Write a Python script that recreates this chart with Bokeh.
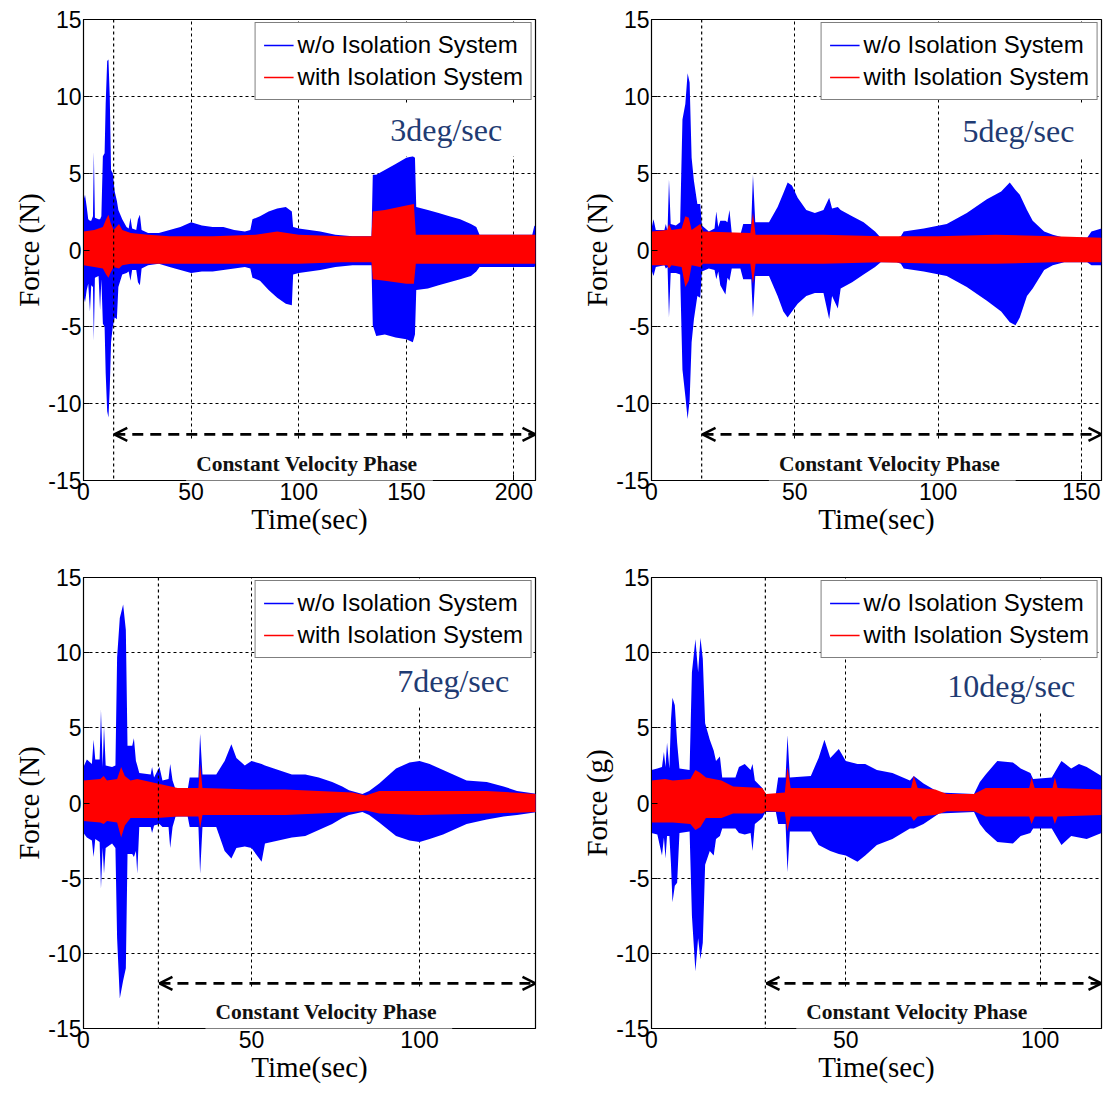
from bokeh.plotting import figure
from bokeh.layouts import column, row
from bokeh.models import (Label, Span, Arrow, OpenHead, Legend, LegendItem,
                          FixedTicker, Range1d)
from bokeh.embed import file_html
from bokeh.resources import INLINE

# ---------------- data (envelopes) ----------------
# Panel 1 : 3 deg/sec
p1_blue_t  = [0, 0.7, 1.5, 2.2, 3.0, 3.6, 4.4, 4.8, 5.3, 7.0, 7.7, 8.3, 9.0, 9.8, 10.3, 11.0, 11.6, 12.2, 12.8,
              13.6, 14.5, 15.5, 16.2, 18.0, 20.0, 21.0, 21.8, 22.6, 24.5, 25.3, 26.2, 27.0, 30, 35, 40, 45, 50,
              55, 60, 65, 70, 75, 77.5, 78.5, 82, 86, 90, 94, 96.8, 97.4, 100, 105, 110, 117, 125, 133.8, 134.4,
              136, 140, 145, 150, 153, 154, 154.6, 160, 165, 170, 175, 180, 182.5, 184, 190, 200, 208.5, 209.5, 210]
p1_blue_hi = [3.2, 3.6, 2.8, 2.0, 1.9, 1.9, 2.2, 6.4, 2.1, 2.0, 2.0, 2.2, 6.1, 6.3, 9.5, 12.3, 12.4, 10.0, 5.2,
              5.0, 3.8, 3.2, 2.6, 2.0, 1.5, 1.4, 2.1, 1.4, 1.3, 2.0, 2.3, 1.3, 1.1, 1.1, 1.3, 1.5, 1.8,
              1.6, 1.5, 1.5, 1.3, 1.2, 1.3, 2.0, 2.2, 2.5, 2.7, 2.8, 2.5, 1.5, 1.4, 1.3, 1.2, 1.0, 0.9, 0.9, 4.9,
              4.9, 5.2, 5.6, 6.0, 6.1, 6.0, 2.8, 2.6, 2.4, 2.2, 2.0, 1.7, 1.5, 1.0, 1.0, 1.0, 1.0, 1.6, 1.5]
p1_blue_lo = [-3.0, -3.4, -2.6, -2.2, -4.0, -2.3, -2.4, -5.9, -1.8, -1.7, -3.9, -1.9, -4.8, -5.0, -8.0, -10.5,
              -10.9, -9.0, -6.0, -5.0, -4.4, -4.5, -2.4, -1.6, -1.5, -1.4, -2.0, -1.3, -1.3, -2.1, -2.3, -1.2,
              -1.0, -0.9, -1.1, -1.3, -1.5, -1.4, -1.4, -1.3, -1.2, -1.1, -1.2, -1.8, -2.0, -2.6, -3.1, -3.5,
              -3.6, -1.6, -1.5, -1.4, -1.3, -1.1, -1.0, -1.0, -4.9, -5.6, -5.5, -5.7, -5.8, -6.0, -5.5, -2.6,
              -2.5, -2.3, -2.1, -1.9, -1.7, -1.4, -1.1, -1.1, -1.1, -1.1, -1.1, -1.0]
p1_red_t  = [0, 5, 9, 10.5, 11.6, 12.5, 14, 16.5, 18, 22, 30, 40, 60, 80, 90, 100, 120, 133.8, 134.4, 140, 150,
             153.5, 154.4, 170, 190, 210]
p1_red_hi = [1.2, 1.3, 1.5, 2.0, 2.3, 1.8, 1.3, 1.7, 1.3, 1.1, 1.0, 0.9, 0.9, 1.0, 1.2, 1.0, 0.9, 0.9, 2.5, 2.6,
             2.9, 3.0, 1.0, 1.0, 1.0, 1.0]
p1_red_lo = [-1.0, -1.1, -1.2, -1.6, -1.8, -1.5, -1.1, -1.2, -1.0, -0.9, -0.9, -0.9, -0.9, -0.9, -0.9, -0.9,
             -0.8, -0.8, -1.9, -2.0, -2.2, -2.2, -0.9, -0.9, -0.9, -0.9]

# Panel 2 : 5 deg/sec
p2_blue_t  = [0, 0.7, 1.5, 4.5, 5.0, 5.6, 6.1, 6.7, 8.5, 10.0, 10.8, 11.8, 12.6, 13.3, 14.0, 14.8, 16.0, 17.0,
              17.6, 20.0, 22.0, 22.6, 23.3, 24.0, 25.8, 26.5, 27.2, 28.0, 31.0, 32.0, 34.8, 35.4, 36.2, 41, 44,
              46, 47.5, 49, 51, 54, 57, 60, 62, 63, 65, 66, 70, 74, 78, 80, 85.5, 87, 88, 95, 103, 110, 117,
              122, 125, 127, 128.5, 131, 133, 137, 140, 144, 152, 153.5, 157]
p2_blue_hi = [1.4, 2.0, 1.3, 1.3, 1.7, 1.2, 4.6, 1.7, 1.6, 1.8, 8.5, 9.5, 11.5, 10.9, 6.0, 4.5, 3.0, 3.0,
              1.6, 1.2, 1.4, 2.5, 1.5, 1.9, 1.9, 1.8, 2.6, 1.1, 1.0, 1.7, 1.7, 4.9, 1.8, 1.8, 2.8,
              3.7, 4.4, 4.2, 3.4, 2.6, 2.4, 2.6, 3.4, 2.7, 2.8, 2.6, 2.2, 1.8, 1.2, 0.8, 0.8, 0.9, 1.2, 1.4, 1.7,
              2.4, 3.3, 3.8, 4.4, 3.9, 3.6, 2.6, 1.9, 1.2, 1.0, 0.8, 0.8, 1.2, 1.4]
p2_blue_lo = [-1.3, -1.7, -1.1, -1.0, -1.2, -1.1, -4.4, -1.5, -1.5, -1.6, -7.8, -9.5, -11.0, -9.8, -6.0, -4.5,
              -3.0, -3.1, -1.4, -1.2, -1.3, -1.9, -1.4, -2.3, -2.9, -1.8, -2.0, -1.2, -1.2, -1.9, -1.9, -4.4,
              -1.7, -1.7, -3.0, -4.0, -4.4, -4.0, -3.5, -3.0, -2.8, -2.8, -4.5, -3.0, -3.8, -2.5, -2.1, -1.6,
              -1.1, -0.8, -0.8, -0.9, -1.2, -1.4, -1.7, -2.4, -3.3, -4.0, -4.7, -4.9, -4.4, -3.0, -2.5, -1.3,
              -1.0, -0.8, -0.8, -1.0, -1.0]
p2_red_t  = [0, 5.5, 6.1, 7, 10.5, 11.8, 13, 14, 17, 18, 34.5, 35.4, 36.3, 60, 80, 100, 120, 140, 157]
p2_red_hi = [1.2, 1.3, 1.7, 1.3, 1.4, 2.2, 2.1, 1.3, 1.7, 1.2, 1.1, 2.4, 1.0, 1.0, 0.9, 0.9, 1.0, 0.9, 0.8]
p2_red_lo = [-1.0, -1.0, -1.2, -1.0, -1.1, -2.4, -2.0, -1.0, -1.1, -0.9, -0.9, -2.2, -0.9, -0.9, -0.8, -0.9,
             -0.9, -0.8, -0.8]

# Panel 3 : 7 deg/sec
p3_blue_t  = [0, 1, 2.5, 3.0, 3.5, 4.8, 5.2, 5.7, 6.1, 6.6, 8.5, 9.5, 10.0, 10.8, 11.8, 12.6, 13.1, 14.5, 15.0,
              15.6, 16.0, 16.6, 20.0, 20.4, 21.0, 22.6, 23.5, 25.3, 25.8, 26.5, 27.4, 31, 31.6, 34.2, 34.7,
              35.4, 39.5, 42, 44, 45.5, 48, 50, 53, 54, 58, 62, 66, 70, 74, 77, 79, 83, 85, 88, 93, 97, 100,
              103, 107, 110, 114, 120, 125, 129, 135]
p3_blue_hi = [2.4, 2.9, 2.6, 4.2, 2.9, 2.9, 6.2, 2.4, 5.1, 2.5, 2.4, 2.5, 9.7, 12.3, 13.2, 11.5, 3.8, 3.8, 4.3,
              2.8, 2.5, 2.0, 1.9, 2.4, 1.7, 2.4, 1.5, 1.6, 2.6, 1.5, 0.9, 0.9, 1.7, 1.7, 4.6, 1.9, 1.9, 2.8,
              3.9, 3.0, 2.5, 2.8, 2.6, 2.5, 2.2, 1.9, 1.9, 1.7, 1.4, 1.1, 0.85, 0.6, 0.8, 1.3, 2.3, 2.7, 2.8,
              2.6, 2.2, 1.9, 1.5, 1.4, 1.1, 0.8, 0.6]
p3_blue_lo = [-2.0, -2.3, -2.5, -3.6, -2.4, -2.6, -5.7, -3.0, -4.7, -3.0, -2.7, -3.0, -9.0, -13.0, -11.8,
              -11.0, -3.4, -3.4, -3.6, -3.2, -4.7, -1.6, -1.6, -2.0, -1.5, -1.4, -1.6, -1.6, -3.0, -1.6, -0.9,
              -0.9, -1.6, -1.6, -4.7, -1.6, -1.6, -3.2, -3.7, -3.0, -2.9, -3.0, -3.9, -2.7, -2.5, -2.3, -2.2,
              -1.8, -1.4, -1.0, -0.8, -0.6, -0.8, -1.3, -2.2, -2.5, -2.6, -2.4, -2.1, -1.8, -1.4, -1.1, -0.9,
              -0.8, -0.6]
p3_red_t  = [0, 5, 6, 7, 10, 11.2, 12.3, 14, 16, 22, 28, 34.2, 34.7, 35.4, 50, 60, 80, 84, 88, 100, 120, 135]
p3_red_hi = [1.5, 1.6, 1.8, 1.5, 1.6, 2.4, 1.8, 1.5, 1.6, 1.3, 1.0, 1.0, 2.6, 1.0, 0.9, 0.9, 0.7, 0.5, 0.8,
             0.8, 0.8, 0.6]
p3_red_lo = [-1.2, -1.3, -1.4, -1.2, -1.3, -2.3, -1.5, -1.0, -1.0, -1.0, -0.9, -0.9, -1.7, -0.8, -0.8, -0.8,
             -0.6, -0.5, -0.7, -0.8, -0.7, -0.6]

# Panel 4 : 10 deg/sec
p4_blue_t  = [0, 1.5, 2.7, 3.2, 3.6, 4.0, 4.6, 5.0, 5.4, 6.0, 6.6, 7.2, 9.8, 10.4, 11.3, 12.0, 12.6, 13.2, 13.8,
              15.0, 16.0, 16.6, 17.6, 18.2, 21.6, 22.5, 24, 25.5, 26.0, 26.6, 28.5, 29.3, 32, 32.6, 34.5, 35.0,
              35.6, 41, 43, 44.5, 46, 48.2, 50, 53, 55, 58, 62, 66.5, 67.5, 70, 74, 83, 84.5, 86, 89, 93, 95,
              97.5, 98.2, 103, 105.5, 108, 110, 112, 115.8]
p4_blue_hi = [2.2, 2.3, 2.4, 3.4, 2.4, 4.0, 2.3, 5.5, 7.0, 6.5, 4.0, 2.3, 2.2, 8.7, 10.9, 8.7, 11.0, 9.6, 5.3,
              4.2, 3.5, 2.8, 3.1, 1.7, 1.7, 2.4, 2.6, 2.2, 2.6, 1.5, 1.0, 0.6, 0.6, 1.7, 1.7, 4.5, 1.7, 1.8,
              3.0, 4.2, 3.0, 3.6, 2.8, 2.6, 2.6, 2.2, 2.0, 1.5, 1.8, 1.3, 0.7, 0.6, 1.4, 1.9, 2.8, 2.7, 2.3,
              2.0, 1.6, 1.7, 2.8, 2.3, 2.6, 2.4, 1.8]
p4_blue_lo = [-2.0, -2.1, -3.5, -2.3, -3.7, -2.2, -2.2, -4.0, -6.6, -5.5, -5.3, -2.0, -1.9, -7.5, -11.2, -9.0,
              -10.4, -9.3, -4.1, -3.2, -3.5, -2.4, -2.2, -1.7, -1.7, -2.0, -2.1, -2.0, -3.2, -1.4, -1.0, -0.6,
              -0.6, -1.4, -1.4, -4.6, -1.9, -1.9, -2.8, -3.0, -3.2, -3.4, -3.5, -3.9, -3.5, -2.8, -2.4, -1.7,
              -1.7, -1.4, -0.7, -0.6, -1.4, -1.9, -2.6, -2.7, -2.2, -2.0, -1.7, -1.7, -2.8, -2.2, -2.3, -2.4,
              -2.0]
p4_red_t  = [0, 3.5, 5.5, 10, 11.3, 12.6, 14, 18, 21, 28.5, 29.5, 34.3, 35.0, 35.8, 66.8, 67.5, 68.5, 73, 76,
             83, 86, 97.2, 97.8, 98.6, 103.2, 103.8, 104.5, 115.8]
p4_red_hi = [1.5, 1.6, 1.5, 1.6, 2.2, 2.0, 1.7, 1.5, 1.1, 1.0, 0.6, 0.7, 2.4, 1.0, 1.0, 1.8, 1.0, 0.9, 0.6,
             0.6, 1.0, 1.0, 1.7, 1.0, 1.0, 1.7, 1.0, 0.9]
p4_red_lo = [-1.3, -1.3, -1.3, -1.4, -1.8, -1.6, -1.0, -1.0, -0.7, -0.7, -0.55, -0.6, -1.9, -0.9, -0.9, -1.2,
             -0.9, -0.8, -0.55, -0.55, -0.9, -0.9, -1.4, -0.9, -0.9, -1.4, -0.9, -0.8]

series_names = ["w/o Isolation System", "with Isolation System"]
rate_labels = ["3deg/sec", "5deg/sec", "7deg/sec", "10deg/sec"]
y_labels = ["Force (N)", "Force (N)", "Force (N)", "Force (g)"]
x_max = [210, 157, 134.5, 115.8]
x_ticks = [[0, 50, 100, 150, 200], [0, 50, 100, 150], [0, 50, 100], [0, 50, 100]]
y_ticks = [-15, -10, -5, 0, 5, 10, 15]
y_tick_text = ["-15", "-10", "-5", "0", "5", "10", "15"]
phase_start = [14, 17.5, 22.3, 29.3]
phase_text = "Constant  Velocity Phase"
phase_text_x = [105, 84, 73, 69]
rate_label_x = [168.5, 128, 110, 92.6]
rate_label_y = [7.8, 7.75, 8.1, 7.8]

BLUE = "#0000FF"
RED = "#FF0000"
NAN = float("nan")


def make_panel(i, bt, bl, br, bb, width, height, data):
    bt_, bh, blo, rt, rh, rlo = data
    p = figure(width=width, height=height, x_range=Range1d(0, x_max[i]), y_range=Range1d(-15, 15),
               output_backend="svg", toolbar_location=None,
               min_border_left=bl, min_border_right=br, min_border_top=bt, min_border_bottom=bb)
    p.background_fill_color = "white"
    p.border_fill_color = "white"
    p.outline_line_color = "black"
    p.outline_line_width = 1.2
    p.xaxis.ticker = FixedTicker(ticks=x_ticks[i])
    p.yaxis.ticker = FixedTicker(ticks=y_ticks)
    p.yaxis.major_label_overrides = {v: s for v, s in zip(y_ticks, y_tick_text)}
    for ax in (p.xaxis[0], p.yaxis[0]):
        ax.axis_line_color = "black"
        ax.major_tick_in = 6
        ax.major_tick_out = 0
        ax.major_tick_line_color = "black"
        ax.minor_tick_line_color = None
        ax.major_label_text_font = "Liberation Sans"
        ax.major_label_text_font_size = "23px"
        ax.major_label_text_color = "black"
        ax.major_label_standoff = 2
        ax.axis_label_text_font = "Liberation Serif"
        ax.axis_label_text_font_size = "29px"
        ax.axis_label_text_font_style = "normal"
        ax.axis_label_text_color = "black"
        ax.axis_label_standoff = 0
    p.xaxis.axis_label = "Time(sec)"
    p.yaxis.axis_label = y_labels[i]
    p.grid.grid_line_color = "black"
    p.grid.grid_line_dash = "3 3"
    p.grid.grid_line_width = 1

    p.varea(x=bt_, y1=blo, y2=bh, fill_color=BLUE)
    p.varea(x=rt, y1=rlo, y2=rh, fill_color=RED)

    p.add_layout(Span(location=phase_start[i], dimension="height", line_color="black",
                      line_dash="3 3", line_width=1.2))

    p.add_layout(Label(x=phase_text_x[i], y=-13.7, text=phase_text, text_font="Liberation Serif",
                       text_font_style="bold", text_font_size="21.5px", text_align="center",
                       text_baseline="middle", text_color="#111111", background_fill_color="white",
                       padding=dict(top=12, bottom=6, left=10, right=10)))
    p.add_layout(Arrow(x_start=phase_start[i] + 0.3, y_start=-12, x_end=x_max[i], y_end=-12,
                       start=OpenHead(size=13, line_width=2.5, line_color="black"),
                       end=OpenHead(size=13, line_width=2.5, line_color="black"),
                       line_dash="11 7", line_width=2.6, line_color="black"))

    p.add_layout(Label(x=rate_label_x[i], y=rate_label_y[i], text=rate_labels[i],
                       text_font="Liberation Serif", text_font_size="32px", text_align="center",
                       text_baseline="middle", text_color="#1f3b73", background_fill_color="white",
                       padding=dict(top=8, bottom=8, left=15, right=15)))

    # legend swatches (a single NaN point, nothing is drawn in the plot area)
    l1 = p.line(x=[NAN], y=[NAN], line_color=BLUE, line_width=1.3)
    l2 = p.line(x=[NAN], y=[NAN], line_color=RED, line_width=1.3)
    leg = Legend(items=[LegendItem(label=series_names[0], renderers=[l1]),
                        LegendItem(label=series_names[1], renderers=[l2])],
                 location="top_right")
    leg.label_text_font = "Liberation Sans"
    leg.label_text_font_size = "24px"
    leg.label_text_color = "black"
    leg.glyph_width = 30
    leg.glyph_height = 26
    leg.label_height = 26
    leg.label_standoff = 4
    leg.spacing = 4
    leg.padding = 8
    leg.margin = 3
    leg.border_line_color = "black"
    leg.border_line_width = 1
    leg.background_fill_color = "white"
    leg.background_fill_alpha = 1
    p.add_layout(leg)
    return p


# top row: frames at y 19..480 ; bottom row: frames at y 577..1030 (C) / 571..1028 (D)
pA = make_panel(0, 19, 83, 27, 64, 562, 544,
                (p1_blue_t, p1_blue_hi, p1_blue_lo, p1_red_t, p1_red_hi, p1_red_lo))
pB = make_panel(1, 19, 89, 6, 64, 545, 544,
                (p2_blue_t, p2_blue_hi, p2_blue_lo, p2_red_t, p2_red_hi, p2_red_lo))
pC = make_panel(2, 33, 83, 27, 62, 562, 548,
                (p3_blue_t, p3_blue_hi, p3_blue_lo, p3_red_t, p3_red_hi, p3_red_lo))
pD = make_panel(3, 27, 89, 6, 64, 545, 548,
                (p4_blue_t, p4_blue_hi, p4_blue_lo, p4_red_t, p4_red_hi, p4_red_lo))

layout = column(row(pA, pB), row(pC, pD))
open("out.html", "w").write(file_html(layout, INLINE))
